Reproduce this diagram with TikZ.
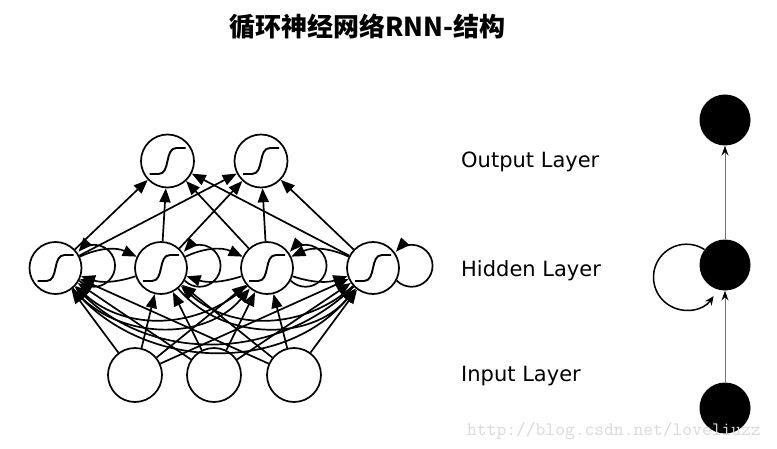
\documentclass[tikz,border=0pt]{standalone}
\usepackage{fontspec}
\newfontfamily\dejavu{DejaVu Sans}
\newfontfamily\cjk{Noto Sans CJK SC}
\usetikzlibrary{arrows.meta,calc}
\begin{document}
\begin{tikzpicture}[x=1pt,y=1pt,
  neuron/.style={circle, draw, line width=1.7pt, fill=white, minimum size=53pt, inner sep=0pt},
  sig/.style={neuron, path picture={\draw[line width=1.9pt] ([shift={(-18pt,-13pt)}]path picture bounding box.center) -- ++(9pt,0) to[out=0,in=180] ++(18pt,26pt) -- ++(9pt,0);}},
  net/.style={line width=1.7pt, -{Triangle[length=14pt,width=11pt]}},
  dot/.style={circle, fill=black, minimum size=51pt, inner sep=0pt},
  thinarr/.style={draw=black!55, line width=1pt, -{Stealth[length=10pt,width=7pt,inset=3.5pt,color=black]}},
  lbl/.style={font=\dejavu\fontsize{21}{25}\selectfont, anchor=base west, inner sep=0pt}
]
\useasboundingbox (0,0) rectangle (777,448);
\fill[white] (0,0) rectangle (777,448);

% title
\node[font=\cjk\bfseries\fontsize{26}{30}\selectfont, inner sep=0pt] (title) at (367.5,421) {循环神经网络RNN-结构};

% left network nodes
\node[sig] (O1) at (167.5,287) {};
\node[sig] (O2) at (261,287) {};
\node[sig, minimum size=52pt] (H1) at (55.5,180) {};
\node[sig, minimum size=52pt] (H2) at (161,180) {};
\node[sig, minimum size=52pt] (H3) at (267,180) {};
\node[sig, minimum size=52pt] (H4) at (373,180) {};
\node[neuron, minimum size=54pt] (I1) at (135,73) {};
\node[neuron, minimum size=54pt] (I2) at (214,73) {};
\node[neuron, minimum size=54pt] (I3) at (294,73) {};

% hidden -> output
\foreach \h in {H1,H2,H3,H4}
  \foreach \o in {O1,O2}
    \draw[net] (\h) -- (\o);

% input -> hidden
\foreach \i in {I1,I2,I3}
  \foreach \h in {H1,H2,H3,H4}
    \draw[net] (\i) -- (\h);

% self loops
\foreach \h in {H1,H2,H3,H4}
  \draw[net] (\h.-28) arc[start angle=-135, end angle=138, radius=21];

% recurrent hidden -> hidden
\draw[net] (H1) to[bend left=25] (H2);
\draw[net] (H2) to[bend left=25] (H3);
\draw[net] (H4) to[bend right=25] (H3);
\draw[net] (H2) to[bend left=18] (H1);
\draw[net] (H3) to[bend left=18] (H2);
\draw[net] (H3) to[bend right=18] (H4);
\draw[net] (H1) to[bend right=50] (H3);
\draw[net] (H3) to[bend left=42] (H1);
\draw[net] (H2) to[bend right=50] (H4);
\draw[net] (H4) to[bend left=42] (H2);
\draw[net] (H1) to[bend right=50] (H4);
\draw[net] (H4) to[bend left=44] (H1);

% labels
\node[lbl] (tO) at (461,280) {Output Layer};
\node[lbl] (tH) at (461,172) {Hidden Layer};
\node[lbl] (tI) at (461,67) {Input Layer};

% right compact network
\node[dot] (R3) at (725,328) {};
\node[dot] (R2) at (725,183) {};
\node[dot] (R1) at (725,40) {};
\draw[thinarr] (R1) -- (R2);
\draw[thinarr] (R2) -- (R3);
\draw[line width=1.5pt, -{Stealth[length=9pt,width=8pt]}] (R2.143) arc[start angle=57, end angle=325, radius=33];

% watermark
\node[anchor=base west, inner sep=0pt, font=\ttfamily\fontsize{19}{20}\selectfont, text=black!15] (wm) at (467,13) {http://blog.csdn.net/loveliuzz};
\end{tikzpicture}
\end{document}
